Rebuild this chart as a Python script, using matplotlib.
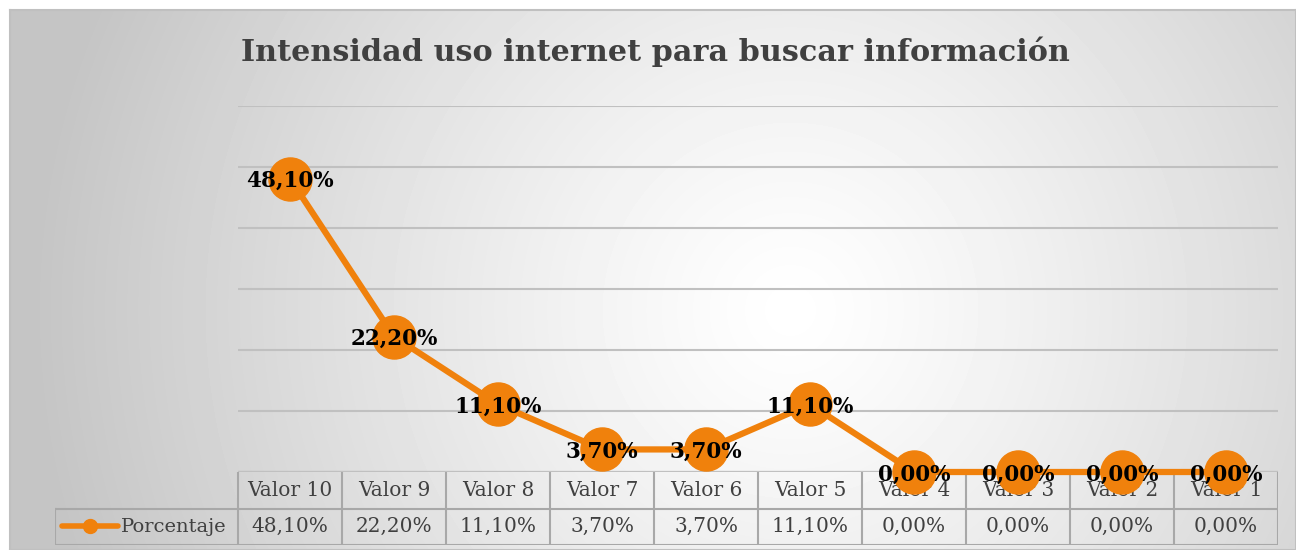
import numpy as np
import matplotlib.pyplot as plt
from matplotlib.lines import Line2D

# data
categorias = ['Valor 10', 'Valor 9', 'Valor 8', 'Valor 7', 'Valor 6',
              'Valor 5', 'Valor 4', 'Valor 3', 'Valor 2', 'Valor 1']
porcentaje = [48.10, 22.20, 11.10, 3.70, 3.70, 11.10, 0.00, 0.00, 0.00, 0.00]
serie = 'Porcentaje'
titulo = 'Intensidad uso internet para buscar información'

naranja = '#F0810C'
gris_txt = '#404040'
plt.rcParams['font.family'] = ['DejaVu Serif']

W, H = 1296, 550
fig = plt.figure(figsize=(W / 100, H / 100), dpi=100)
fig.patch.set_facecolor('white')

# background with radial gradient
bg = fig.add_axes([10 / W, 0, 1 - 10 / W, 1 - 10 / H])
yy, xx = np.mgrid[0:540, 0:1286]
r = np.hypot(xx - 780, yy - 300) / 760
img = 1 - 0.23 * np.clip(r, 0, 1) ** 1.2
bg.imshow(img, cmap='gray', vmin=0, vmax=1, aspect='auto', interpolation='bilinear')
bg.set_xticks([])
bg.set_yticks([])
for s in bg.spines.values():
    s.set_color('#c0c0c0')
    s.set_linewidth(1.5)

fig.text(241 / W, 1 - 52 / H, titulo, fontsize=21.8, fontweight='bold',
         color=gris_txt, va='center', ha='left')

x = np.arange(len(categorias))
vals = np.array(porcentaje) / 100

# data table
tab = fig.add_axes([55 / W, 1 - 545 / H, (1278 - 55) / W, (545 - 472) / H])
tab.patch.set_alpha(0)
lbl_w = (238 - 55) / 104
tab.set_xlim(-0.5 - lbl_w, len(categorias) - 0.5)
tab.set_ylim(0, 2)
tab.axis('off')
lc = '#a8a8a8'
for i in range(len(categorias) + 1):
    tab.plot([i - 0.5, i - 0.5], [0, 2], color=lc, lw=1.5)
tab.plot([-0.5 - lbl_w, -0.5 - lbl_w], [0, 1], color=lc, lw=1.5)
tab.plot([-0.5 - lbl_w, len(categorias) - 0.5], [0, 0], color=lc, lw=1.5)
tab.plot([-0.5 - lbl_w, len(categorias) - 0.5], [1, 1], color=lc, lw=1.5)
for i, (c, v) in enumerate(zip(categorias, porcentaje)):
    tab.text(i, 1.5, c, ha='center', va='center', fontsize=14.5, color=gris_txt)
    tab.text(i, 0.5, f'{v:.2f}%'.replace('.', ','), ha='center', va='center',
             fontsize=14.5, color=gris_txt)
kx = -0.5 - lbl_w + 0.07
tab.add_line(Line2D([kx, kx + 0.54], [0.52, 0.52], color=naranja, lw=4,
                    solid_capstyle='round'))
tab.plot([kx + 0.27], [0.52], 'o', color=naranja, ms=10)
tab.text(kx + 0.56, 0.5, serie, ha='left', va='center', fontsize=14, color=gris_txt)

# main plot
ax = fig.add_axes([238 / W, 1 - 472 / H, (1278 - 238) / W, (472 - 106) / H])
ax.patch.set_alpha(0)
ax.set_xlim(-0.5, len(categorias) - 0.5)
ax.set_ylim(0, 0.6)
for s in ax.spines.values():
    s.set_visible(False)
ax.set_xticks([])
ax.set_yticks(np.arange(0, 0.61, 0.1))
ax.tick_params(left=False, labelleft=False)
ax.grid(axis='y', color='#c0c0c0', lw=1.5)
ax.axhline(0, color='#808080', lw=1.5, zorder=1)
ax.plot(x, vals, color=naranja, lw=4.5, marker='o', ms=31, clip_on=False, zorder=3)
for xi, v, p in zip(x, vals, porcentaje):
    ax.text(xi, v - 0.004, f'{p:.2f}%'.replace('.', ','), ha='center', va='center',
            fontsize=15.5, fontweight='bold', color='black', zorder=4)

fig.savefig('out.png', dpi=100)
